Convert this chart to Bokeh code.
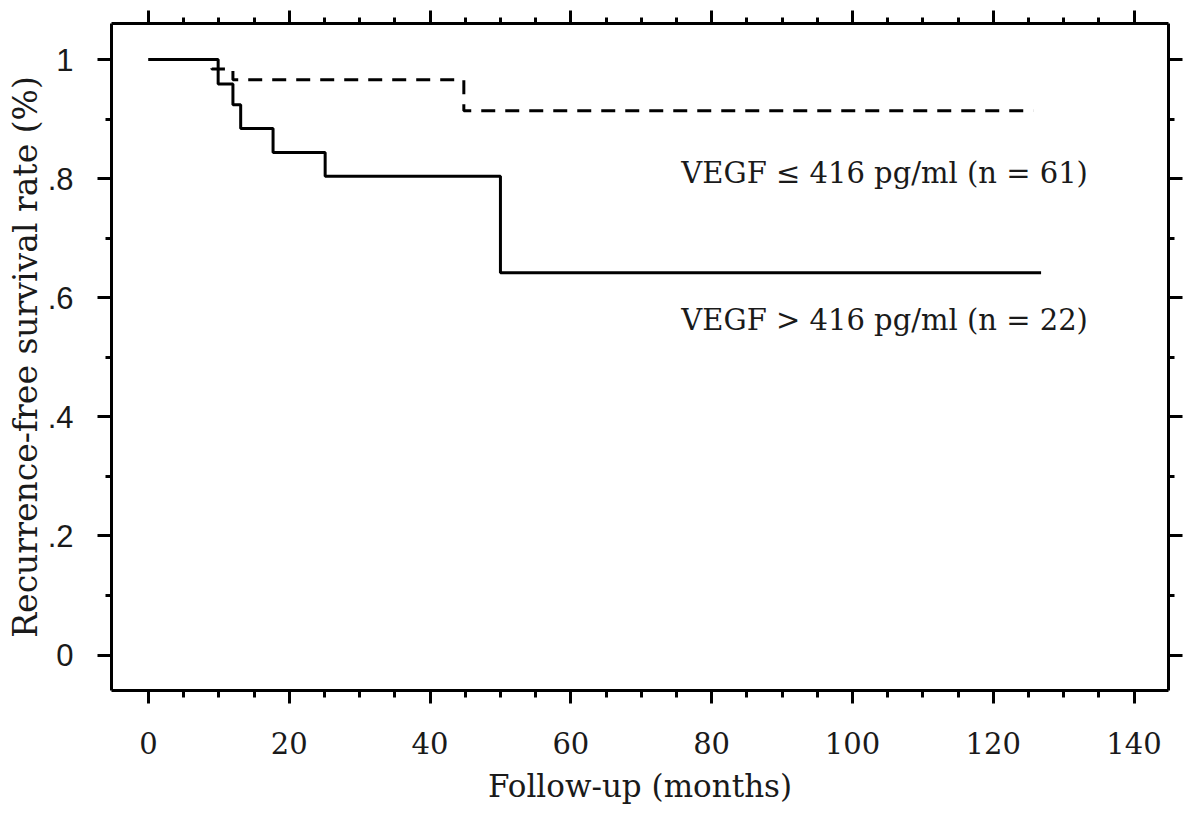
from bokeh.plotting import figure
from bokeh.models import LinearAxis, FixedTicker, CustomJSTickFormatter, Range1d
from bokeh.core.properties import value
from bokeh.embed import file_html
from bokeh.resources import INLINE

# ---- data ----
high_times = [0, 9.9, 12.0, 13.1, 17.7, 25.1, 50.0, 126.8]
high_surv = [1.0, 0.959, 0.924, 0.884, 0.844, 0.804, 0.642, 0.642]
low_times = [0, 9.0, 12.0, 44.8, 125.7]
low_surv = [1.0, 0.984, 0.966, 0.914, 0.914]

x_ticks = [0, 20, 40, 60, 80, 100, 120, 140]
x_minor = [i * 5 for i in range(29)]
y_ticks = [0, 0.2, 0.4, 0.6, 0.8, 1]
y_labels = ["0", ".2", ".4", ".6", ".8", "1"]
y_minor = [0, 0.1, 0.2, 0.3, 0.4, 0.5, 0.6, 0.7, 0.8, 0.9, 1.0]

label_texts = ["VEGF \u2264 416 pg/ml (n = 61)", "VEGF > 416 pg/ml (n = 22)"]
label_x = [75.7, 75.7]
label_y = [0.809, 0.5634]

SERIF = "DejaVu Serif"
SANS = "Liberation Sans"

p = figure(width=1188, height=808,
           x_range=Range1d(-5.25, 144.9), y_range=Range1d(-0.0596, 1.0605),
           output_backend="svg", toolbar_location=None,
           min_border_left=111, min_border_right=20,
           min_border_top=23, min_border_bottom=118)
p.grid.visible = False
p.outline_line_color = None
p.background_fill_color = "white"
p.border_fill_color = "white"

blank = CustomJSTickFormatter(code="return ''")


def style(ax, ticks, minor, major_out=14, minor_out=7):
    ax.ticker = FixedTicker(ticks=ticks, minor_ticks=minor)
    ax.axis_line_width = 3
    ax.axis_line_color = "black"
    ax.major_tick_line_width = 3
    ax.minor_tick_line_width = 3
    ax.major_tick_line_color = "black"
    ax.minor_tick_line_color = "black"
    ax.major_tick_in = 0
    ax.minor_tick_in = 0
    ax.major_tick_out = major_out
    ax.minor_tick_out = minor_out


# bottom axis
xb = p.xaxis[0]
style(xb, x_ticks, x_minor, 13, 7)
xb.axis_label = "Follow-up (months)"
xb.axis_label_text_font = SERIF
xb.axis_label_text_font_size = "31px"
xb.axis_label_text_font_style = "normal"
xb.axis_label_text_color = "#1a1a1a"
xb.axis_label_standoff = 11
xb.major_label_text_font = SERIF
xb.major_label_text_font_size = "29px"
xb.major_label_text_color = "#1a1a1a"
xb.major_label_standoff = 28

# left axis
yl = p.yaxis[0]
style(yl, y_ticks, y_minor, 14, 6)
yl.major_label_overrides = {t: s for t, s in zip(y_ticks, y_labels)}
yl.axis_label = "Recurrence-free survival rate (%)"
yl.axis_label_text_font = SERIF
yl.axis_label_text_font_size = "33px"
yl.axis_label_text_font_style = "normal"
yl.axis_label_text_color = "#1a1a1a"
yl.axis_label_standoff = 0
yl.major_label_text_font = SANS
yl.major_label_text_font_size = "31px"
yl.major_label_text_color = "#1a1a1a"
yl.major_label_standoff = 24

# top axis (ticks only)
xt = LinearAxis(formatter=blank, major_label_standoff=0)
style(xt, x_ticks, x_minor, 13, 6)
p.add_layout(xt, "above")

# right axis (ticks only)
yr = LinearAxis(formatter=blank, major_label_standoff=0)
style(yr, y_ticks, y_minor, 14, 6)
p.add_layout(yr, "right")

# curves
p.step(x=low_times, y=low_surv, mode="after", line_color="black",
       line_width=3, line_dash="14 10")
p.step(x=high_times, y=high_surv, mode="after", line_color="black",
       line_width=3)

p.text(x=label_x, y=label_y, text=label_texts,
       text_font=value(SERIF), text_font_size=value("29px"),
       text_color="#1a1a1a", text_align="left", text_baseline="alphabetic")

open("out.html", "w").write(file_html(p, INLINE))
